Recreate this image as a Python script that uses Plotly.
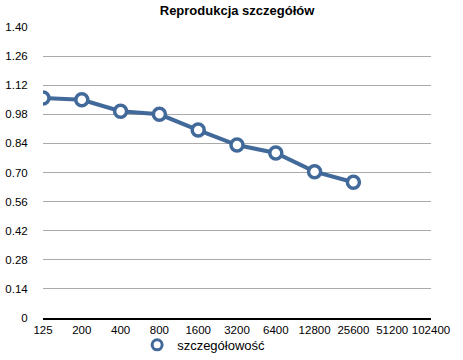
import plotly.graph_objects as go

categories = ["125", "200", "400", "800", "1600", "3200", "6400", "12800", "25600", "51200", "102400"]
values = [1.058, 1.050, 0.995, 0.980, 0.904, 0.832, 0.794, 0.704, 0.653, None, None]
y_ticks = [0, 0.14, 0.28, 0.42, 0.56, 0.70, 0.84, 0.98, 1.12, 1.26, 1.40]
y_labels = ["0", "0.14", "0.28", "0.42", "0.56", "0.70", "0.84", "0.98", "1.12", "1.26", "1.40"]
series_name = "szczegółowość"
title = "Reprodukcja szczegółów"

blue = "#41699a"
font = "Liberation Sans, Arial, Helvetica, sans-serif"

fig = go.Figure()
fig.add_trace(go.Scatter(
    x=categories, y=values, name=series_name, mode="lines+markers",
    line=dict(color=blue, width=4),
    marker=dict(symbol="circle", size=12, color="white", line=dict(color=blue, width=3.5)),
    connectgaps=False, showlegend=False,
))
# legend entry (marker only, as in the reference)
fig.add_trace(go.Scatter(
    x=[None], y=[None], name=series_name, mode="markers",
    marker=dict(symbol="circle", size=10, color="white", line=dict(color=blue, width=3)),
    showlegend=True,
))

fig.update_layout(
    width=463, height=360,
    margin=dict(l=43, r=32, t=27, b=42, autoexpand=False),
    paper_bgcolor="white", plot_bgcolor="white",
    font=dict(family=font, size=11.5, color="black"),
    title=dict(text="<b>" + title + "</b>", x=0.512, xanchor="center", yref="container",
               y=0.972, yanchor="middle",
               font=dict(size=13, family=font, color="black")),
    showlegend=True,
    legend=dict(orientation="h", x=0.414, xanchor="center", yref="container", y=0.042,
                yanchor="middle", font=dict(size=13), itemwidth=30,
                bgcolor="rgba(0,0,0,0)"),
    xaxis=dict(type="category", categoryorder="array", categoryarray=categories,
               range=[0, len(categories) - 1], showgrid=False, showline=True,
               linecolor="black", linewidth=1.5, ticks="", tickfont=dict(size=11.5),
               zeroline=False, fixedrange=True, automargin=False),
    yaxis=dict(range=[0, 1.40], tickvals=y_ticks, ticktext=y_labels, showgrid=True,
               gridcolor="#aaaaaa", gridwidth=1, zeroline=False, showline=False,
               ticks="outside", ticklen=12, tickcolor="rgba(0,0,0,0)",
               tickfont=dict(size=11.5), automargin=False),
)

fig.write_html("out.html", config={"displayModeBar": False},
               post_script="document.body.style.margin='0';")
